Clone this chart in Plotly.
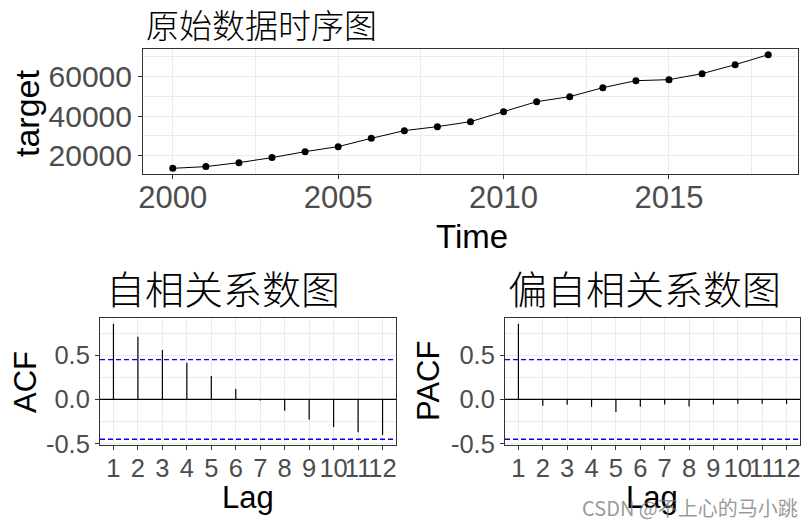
import plotly.graph_objects as go

# ---- data ----
years = list(range(2000, 2019))
target = [13570, 14430, 16450, 18990, 22020, 24560, 28760, 32660, 34680, 37210,
          42280, 47340, 49870, 54430, 57970, 58480, 61520, 66080, 71140]
lags = list(range(1, 13))
acf_vals = [0.856, 0.708, 0.560, 0.416, 0.265, 0.117, -0.011, -0.129, -0.231, -0.311, -0.371, -0.402]
pacf_vals = [0.856, -0.072, -0.061, -0.084, -0.141, -0.084, -0.057, -0.080, -0.057, -0.050, -0.050, -0.050]
ci = 0.45

top_xticks = [2000, 2005, 2010, 2015]
top_yticks = [20000, 40000, 60000]
top_yticklabels = ["20000", "40000", "60000"]
corr_yticks = [-0.5, 0.0, 0.5]
corr_yticklabels = ["-0.5", "0.0", "0.5"]
lag_ticklabels = [str(l) for l in lags]

title_top = "原始数据时序图"
title_acf = "自相关系数图"
title_pacf = "偏自相关系数图"
watermark = "CSDN @不上心的马小跳"

W, H = 810, 525
def fx(p): return p / W
def fy(p): return 1 - p / H

def expand(vals, extra=()):
    lo = min(list(vals) + list(extra)); hi = max(list(vals) + list(extra))
    s = hi - lo
    return [lo - 0.05 * s, hi + 0.05 * s]

LAT = "Liberation Sans, Arial, sans-serif"
CJK = "Noto Sans CJK SC, sans-serif"
GRID = "#EBEBEB"
TICKC = "#4D4D4D"

fig = go.Figure()

# top series
fig.add_trace(go.Scatter(x=years, y=target, mode="lines+markers",
                         line=dict(color="black", width=1),
                         marker=dict(color="black", size=7),
                         xaxis="x", yaxis="y", showlegend=False))

def stems(xs, ys):
    X, Y = [], []
    for a, b in zip(xs, ys):
        X += [a, a, None]; Y += [0, b, None]
    return X, Y

ax, ay = stems(lags, acf_vals)
fig.add_trace(go.Scatter(x=ax, y=ay, mode="lines", line=dict(color="black", width=1.2),
                         xaxis="x2", yaxis="y2", showlegend=False))
px_, py_ = stems(lags, pacf_vals)
fig.add_trace(go.Scatter(x=px_, y=py_, mode="lines", line=dict(color="black", width=1.2),
                         xaxis="x3", yaxis="y3", showlegend=False))

common = dict(showline=True, mirror=True, linecolor="#333333", linewidth=1,
              ticks="outside", ticklen=4, tickcolor="#333333", tickwidth=1,
              showgrid=True, gridcolor=GRID, gridwidth=1.2, zeroline=False,
              automargin=False, tickangle=0)

fig.update_layout(
    width=W, height=H, margin=dict(l=0, r=0, t=0, b=0),
    template="none", paper_bgcolor="white", plot_bgcolor="white",
    xaxis=dict(domain=[fx(143), fx(798)], range=expand(years), anchor="y",
               tickvals=top_xticks, tickfont=dict(family=LAT, size=31, color=TICKC),
               ticklabelstandoff=-8,
               minor=dict(showgrid=True, gridcolor=GRID, gridwidth=0.7, dtick=2.5, tick0=2000, ticks=""),
               **common),
    yaxis=dict(domain=[fy(174), fy(49)], range=expand(target), anchor="x",
               tickvals=top_yticks, ticktext=top_yticklabels,
               tickfont=dict(family=LAT, size=30, color=TICKC),
               minor=dict(showgrid=True, gridcolor=GRID, gridwidth=0.7, dtick=10000, tick0=0, ticks=""),
               **common),
    xaxis2=dict(domain=[fx(100), fx(396)], range=expand(lags), anchor="y2",
                tickvals=lags, ticktext=lag_ticklabels, ticklabelstandoff=-4,
                tickfont=dict(family=LAT, size=25.5, color=TICKC), **common),
    yaxis2=dict(domain=[fy(445), fy(318)], range=expand(acf_vals, (ci, -ci)), anchor="x2",
                tickvals=corr_yticks, ticktext=corr_yticklabels,
                tickfont=dict(family=LAT, size=25.5, color=TICKC),
                minor=dict(showgrid=True, gridcolor=GRID, gridwidth=0.7, dtick=0.25, tick0=0, ticks=""),
                **common),
    xaxis3=dict(domain=[fx(505), fx(800)], range=expand(lags), anchor="y3",
                tickvals=lags, ticktext=lag_ticklabels, ticklabelstandoff=-4,
                tickfont=dict(family=LAT, size=25.5, color=TICKC), **common),
    yaxis3=dict(domain=[fy(445), fy(318)], range=expand(pacf_vals, (ci, -ci)), anchor="x3",
                tickvals=corr_yticks, ticktext=corr_yticklabels,
                tickfont=dict(family=LAT, size=25.5, color=TICKC),
                minor=dict(showgrid=True, gridcolor=GRID, gridwidth=0.7, dtick=0.25, tick0=0, ticks=""),
                **common),
)

shapes = []
for xa, ya in (("x2", "y2"), ("x3", "y3")):
    shapes.append(dict(type="line", xref=f"{xa} domain", yref=ya, x0=0, x1=1, y0=0, y1=0,
                       line=dict(color="black", width=1.2), layer="above"))
    for v in (ci, -ci):
        shapes.append(dict(type="line", xref=f"{xa} domain", yref=ya, x0=0, x1=1, y0=v, y1=v,
                           line=dict(color="#0000FF", width=1.4, dash="5px,3px"), layer="above"))
fig.update_layout(shapes=shapes)

ann = []
def text(t, x, y, size, family, color="black", angle=0, xanchor="center", weight=None):
    f = dict(family=family, size=size, color=color)
    if weight is not None:
        f["weight"] = weight
    ann.append(dict(text=t, x=fx(x), y=fy(y), xref="paper", yref="paper", showarrow=False,
                    xanchor=xanchor, yanchor="middle", textangle=angle, font=f))

text(title_top, 144, 24, 33, CJK, xanchor="left", weight=300)
text(title_acf, 104, 287, 39, CJK, xanchor="left", weight=300)
text(title_pacf, 506, 287, 39, CJK, xanchor="left", weight=300)
text("target", 27, 114, 34, LAT, angle=-90)
text("Time", 472, 236, 33, LAT)
text("ACF", 25, 382, 31, LAT, angle=-90)
text("PACF", 428, 381, 31, LAT, angle=-90)
text("Lag", 248, 497, 31, LAT)
text("Lag", 652, 497, 31, LAT)
text(watermark, 690, 507, 20, CJK, color="rgba(120,120,120,0.75)")
fig.update_layout(annotations=ann)

fig.write_html("out.html")
